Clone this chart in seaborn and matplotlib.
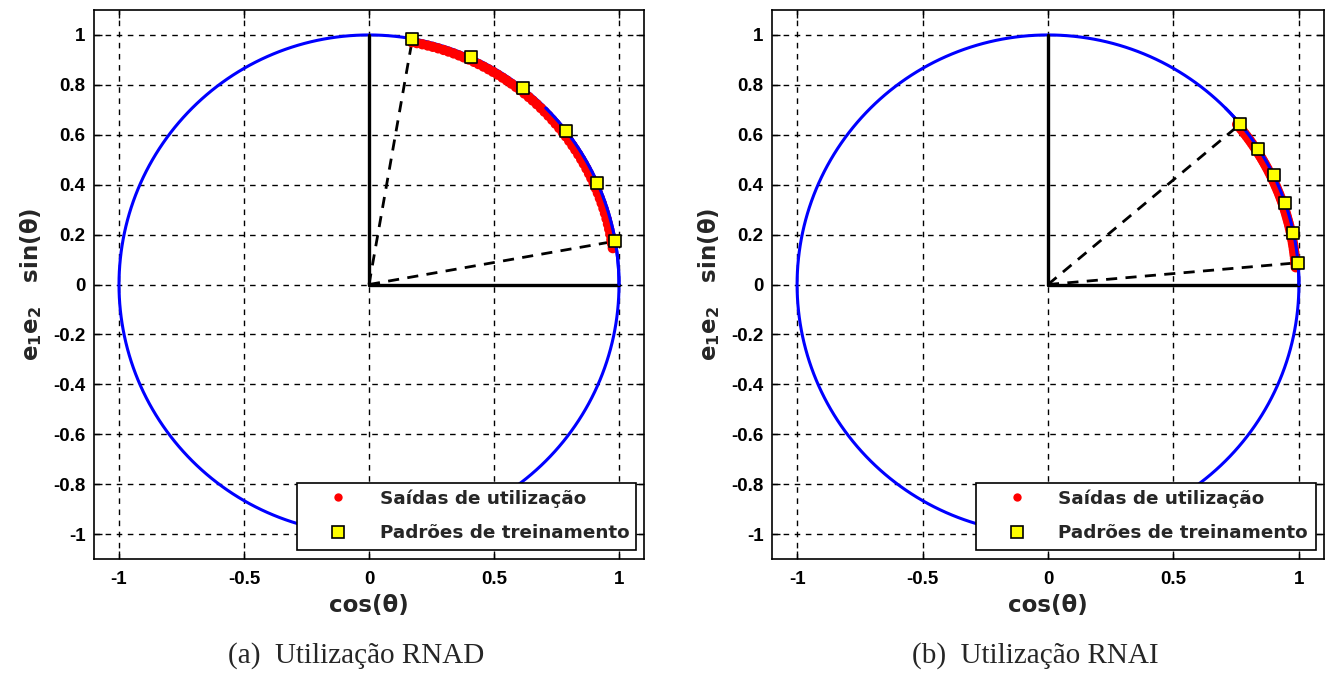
import numpy as np
import pandas as pd
import matplotlib
matplotlib.use("Agg")
import matplotlib.pyplot as plt
import seaborn as sns
from matplotlib.lines import Line2D
from matplotlib.patches import Rectangle

# Training pattern angles (degrees) for each network
train_deg_rnad = [80, 66, 52, 38, 24, 10]
train_deg_rnai = [40, 33, 26, 19, 12, 5]

# Network outputs in use: angles (degrees) and radius of each output
out_deg_rnad = [8.5, 9.5, 10.5, 11.8, 13.0, 14.2, 15.5, 16.8, 18.0, 19.3, 20.5,
                21.8, 23.0, 24.3, 25.6, 26.8, 28.1, 29.4, 30.6, 31.9, 33.2,
                34.4, 35.7, 37.0, 38.2, 39.5, 40.8, 42.0, 43.3, 44.6, 45.8,
                47.1, 48.4, 49.6, 50.9, 52.2, 53.4, 54.7, 56.0, 57.2, 58.5,
                59.8, 61.0, 62.3, 63.6, 64.8, 66.1, 67.4, 68.6, 69.9, 71.2,
                72.4, 73.7, 75.0, 76.2, 77.5, 78.8, 80.0]
out_rad_rnad = 0.986
out_deg_rnai = [4.0, 4.7, 5.4, 6.1, 6.8, 7.5, 8.2, 8.9, 9.6, 10.3, 11.0, 11.7,
                12.4, 13.1, 13.8, 14.5, 15.2, 15.9, 16.6, 17.3, 18.0, 18.7,
                19.4, 20.1, 20.8, 21.5, 22.2, 22.9, 23.6, 24.3, 25.0, 25.7,
                26.4, 27.1, 27.8, 28.5, 29.2, 29.9, 30.6, 31.3, 32.0, 32.7,
                33.4, 34.1, 34.8, 35.5, 36.2, 36.9, 37.6, 38.3, 39.0, 39.7, 40.4]
out_rad_rnai = 0.99

x_ticks = [-1, -0.5, 0, 0.5, 1]
x_tick_labels = ["-1", "-0.5", "0", "0.5", "1"]
y_ticks = [-1, -0.8, -0.6, -0.4, -0.2, 0, 0.2, 0.4, 0.6, 0.8, 1]
y_tick_labels = ["-1", "-0.8", "-0.6", "-0.4", "-0.2", "0", "0.2", "0.4", "0.6", "0.8", "1"]

legend_labels = ["Saídas de utilização", "Padrões de treinamento"]
captions = ["(a)  Utilização RNAD", "(b)  Utilização RNAI"]

sns.set_style("ticks")
plt.rcParams["font.family"] = ["Liberation Sans", "DejaVu Sans"]
plt.rcParams["font.weight"] = "bold"
plt.rcParams["mathtext.fontset"] = "custom"
plt.rcParams["mathtext.bf"] = "DejaVu Sans:bold"
plt.rcParams["mathtext.rm"] = "DejaVu Sans:bold"
plt.rcParams["mathtext.default"] = "bf"

fig = plt.figure(figsize=(13.28, 6.76), dpi=100)
W, H = 1328, 676
axes = [
    fig.add_axes([94 / W, 1 - 559 / H, 550 / W, 549 / H]),
    fig.add_axes([772 / W, 1 - 559 / H, 552 / W, 549 / H]),
]

circle_t = np.linspace(0, 2 * np.pi, 721)


def polar_frame(deg, rad):
    a = np.deg2rad(np.asarray(deg, dtype=float))
    return pd.DataFrame({"x": rad * np.cos(a), "y": rad * np.sin(a)})


panels = [
    (train_deg_rnad, out_deg_rnad, out_rad_rnad),
    (train_deg_rnai, out_deg_rnai, out_rad_rnai),
]

label_font = {"family": "DejaVu Sans", "weight": "bold", "size": 16.5}

for ax, (train_deg, out_deg, out_rad) in zip(axes, panels):
    ax.set_xlim(-1.1, 1.1)
    ax.set_ylim(-1.1, 1.1)
    ax.set_axisbelow(True)
    ax.grid(True, color="black", linestyle=(0, (4, 4)), linewidth=1.0)

    # unit circle
    ax.plot(np.cos(circle_t), np.sin(circle_t), color="#0000ff", lw=2.2, zorder=2)

    # reference axes from the origin
    ax.plot([0, 0], [0, 1], color="black", lw=2.4, zorder=3)
    ax.plot([0, 1], [0, 0], color="black", lw=2.4, zorder=3)

    train = polar_frame(train_deg, 1.0)
    out = polar_frame(out_deg, out_rad)

    # dashed rays to the extreme training patterns
    for deg in (max(train_deg), min(train_deg)):
        a = np.deg2rad(deg)
        ax.plot([0, np.cos(a)], [0, np.sin(a)], color="black", lw=2.0,
                linestyle=(0, (4, 3)), zorder=3)

    sns.scatterplot(data=out, x="x", y="y", ax=ax, color="red", marker="o",
                    s=55, edgecolor="none", zorder=4, legend=False)
    ax.plot(np.cos(circle_t[:91]), np.sin(circle_t[:91]), color="#0000ff",
            lw=2.2, zorder=5)
    sns.scatterplot(data=train, x="x", y="y", ax=ax, color="#ffff00", marker="s",
                    s=70, edgecolor="black", linewidth=1.2, zorder=6, legend=False)

    ax.set_xticks(x_ticks)
    ax.set_xticklabels(x_tick_labels)
    ax.set_yticks(y_ticks)
    ax.set_yticklabels(y_tick_labels)
    ax.tick_params(direction="in", length=6, width=1.0, top=True, right=True,
                   labelsize=13.5, colors="black")
    ax.tick_params(axis="x", pad=9)
    ax.tick_params(axis="y", pad=6)
    for sp in ax.spines.values():
        sp.set_visible(True)
        sp.set_linewidth(1.2)
        sp.set_color("black")

    ax.set_xlabel("cos(θ)", fontdict=label_font, labelpad=4)
    ax.set_ylabel("e$_1$e$_2$   sin(θ)", fontdict=label_font, labelpad=7)

    # legend box: white panel with black border, entries placed inside it
    box = Rectangle((0.369, 0.0164), 0.6165, 0.122, transform=ax.transAxes,
                    facecolor="white", edgecolor="black", linewidth=1.2,
                    zorder=9, clip_on=False)
    ax.add_patch(box)
    handles = [
        Line2D([], [], linestyle="none", marker="o", markersize=6,
               markerfacecolor="red", markeredgecolor="none"),
        Line2D([], [], linestyle="none", marker="s", markersize=8,
               markerfacecolor="#ffff00", markeredgecolor="black", markeredgewidth=1.2),
    ]
    leg = ax.legend(handles, legend_labels, loc="upper left",
                    bbox_to_anchor=(0.4075, 0.127),
                    prop={"family": "DejaVu Sans", "weight": "bold", "size": 13.2},
                    frameon=False, handlelength=2.2, handletextpad=1.15,
                    borderpad=0, labelspacing=0.9, borderaxespad=0)
    leg.set_zorder(10)

caption_x = [356 / W, 1035 / W]
for cx, cap in zip(caption_x, captions):
    fig.text(cx, 1 - 656 / H, cap, ha="center", va="center",
             fontsize=21, fontweight="normal", family="Liberation Serif")

fig.savefig("out.png", dpi=100, facecolor="white")
